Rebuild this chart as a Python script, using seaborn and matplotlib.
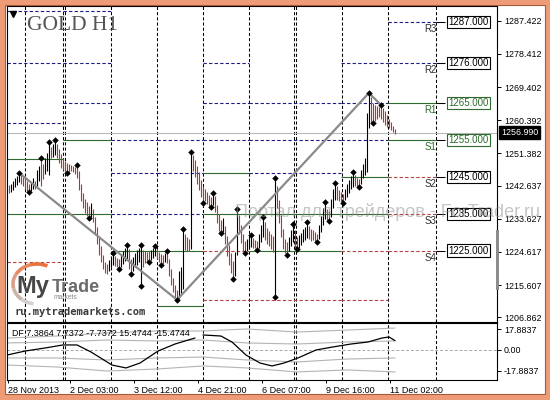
# GOLD H1 chart, MetaTrader style: bars, pivot levels, zigzag, DF indicator
import numpy as np
import matplotlib
matplotlib.use("Agg")
import matplotlib.pyplot as plt
from matplotlib.patches import Rectangle, Arc
import seaborn as sns

# ---- H1 bars, bar 1 .. 194 ----
bar_low = [
    1240.5, 1240.8, 1241.5, 1242.2, 1242.8, 1243.5, 1243.0, 1242.4, 1241.8, 1241.2,
    1240.8, 1241.2, 1241.8, 1241.6, 1242.4, 1243.8, 1242.5, 1244.5, 1245.8, 1246.5,
    1245.5, 1250.0, 1250.5, 1251.0, 1250.0, 1248.8, 1247.5, 1246.8, 1246.4, 1246.0,
    1246.3, 1246.5, 1246.4, 1245.8, 1244.8, 1241.5, 1238.5, 1236.5, 1235.3, 1234.3,
    1233.8, 1234.0, 1232.8, 1229.8, 1226.8, 1223.8, 1221.8, 1220.0, 1218.9, 1218.5,
    1219.4, 1220.6, 1221.2, 1220.8, 1220.4, 1220.1, 1220.5, 1221.4, 1222.2, 1222.8,
    1220.0, 1218.6, 1219.4, 1220.4, 1221.2, 1221.8, 1215.4, 1220.4, 1221.6, 1222.0,
    1221.8, 1222.5, 1223.0, 1223.4, 1222.6, 1221.8, 1221.0, 1221.4, 1221.8, 1221.5,
    1218.0, 1215.6, 1213.6, 1212.2, 1211.6, 1211.9, 1213.5, 1214.5, 1225.2, 1224.8,
    1225.0, 1225.4, 1246.5, 1245.0, 1243.2, 1241.4, 1239.6, 1237.9, 1238.4, 1237.6,
    1237.0, 1236.8, 1237.4, 1235.4, 1232.6, 1230.4, 1229.7, 1229.9, 1226.8, 1223.6,
    1221.0, 1218.8, 1217.3, 1218.0, 1223.8, 1229.5, 1227.0, 1225.0, 1224.3, 1224.8,
    1225.4, 1226.0, 1225.6, 1225.6, 1225.2, 1225.8, 1227.4, 1228.8, 1227.8, 1226.8,
    1226.2, 1225.4, 1224.6, 1212.4, 1236.5, 1232.5, 1228.6, 1225.4, 1224.2, 1223.8,
    1224.8, 1226.2, 1227.4, 1225.8, 1225.4, 1225.8, 1226.4, 1227.2, 1227.8, 1228.4,
    1228.0, 1227.6, 1227.8, 1227.6, 1227.3, 1228.0, 1230.0, 1232.0, 1233.6, 1233.2,
    1233.0, 1234.2, 1236.6, 1238.6, 1238.6, 1238.4, 1238.2, 1237.9, 1238.6, 1239.6,
    1240.6, 1241.6, 1242.2, 1242.4, 1242.4, 1242.2, 1243.2, 1244.6, 1245.6, 1246.2,
    1258.4, 1259.8, 1259.6, 1260.2, 1260.8, 1261.2, 1260.8, 1259.8, 1259.2, 1258.6,
    1258.2, 1257.6, 1257.2, 1256.6,
]
bar_high = [
    1242.8, 1243.2, 1243.8, 1244.6, 1245.2, 1246.1, 1245.6, 1245.0, 1244.4, 1243.8,
    1243.2, 1243.6, 1244.6, 1244.0, 1246.8, 1248.0, 1250.0, 1248.5, 1250.2, 1251.5,
    1254.5, 1253.2, 1254.0, 1255.0, 1254.0, 1252.5, 1251.2, 1250.0, 1249.2, 1248.8,
    1248.5, 1248.2, 1248.0, 1247.8, 1248.2, 1246.5, 1243.0, 1240.5, 1239.0, 1238.3,
    1237.2, 1237.8, 1236.4, 1234.2, 1231.4, 1228.4, 1226.2, 1223.8, 1222.0, 1221.4,
    1222.4, 1223.4, 1224.3, 1223.6, 1223.0, 1222.6, 1223.8, 1224.8, 1225.8, 1226.5,
    1225.4, 1222.8, 1223.2, 1224.2, 1225.2, 1225.6, 1226.5, 1225.2, 1225.0, 1224.6,
    1224.8, 1225.2, 1225.6, 1226.2, 1225.4, 1224.6, 1224.0, 1223.8, 1224.2, 1224.8,
    1222.6, 1220.0, 1217.6, 1215.6, 1214.4, 1219.5, 1220.5, 1230.8, 1229.6, 1228.6,
    1228.2, 1251.8, 1251.0, 1249.6, 1248.0, 1246.2, 1244.2, 1242.4, 1241.8, 1240.8,
    1240.0, 1239.6, 1240.6, 1239.8, 1237.4, 1235.0, 1233.2, 1233.8, 1231.6, 1229.0,
    1226.4, 1224.4, 1222.2, 1224.5, 1236.3, 1234.6, 1232.0, 1229.6, 1227.6, 1228.2,
    1228.8, 1229.2, 1228.4, 1227.8, 1227.6, 1229.6, 1232.0, 1234.1, 1232.8, 1231.2,
    1230.2, 1229.6, 1229.0, 1244.7, 1242.4, 1238.6, 1234.6, 1230.8, 1228.0, 1227.2,
    1228.8, 1230.6, 1232.2, 1230.6, 1228.6, 1229.2, 1229.8, 1230.8, 1231.4, 1232.7,
    1231.6, 1230.8, 1230.6, 1230.0, 1229.4, 1232.0, 1234.4, 1236.6, 1238.2, 1236.4,
    1235.8, 1239.0, 1241.6, 1243.3, 1242.4, 1241.4, 1240.8, 1240.4, 1241.6, 1243.0,
    1244.2, 1245.2, 1246.3, 1245.4, 1244.8, 1244.4, 1246.8, 1248.6, 1250.1, 1262.3,
    1267.8, 1266.8, 1265.2, 1264.6, 1264.2, 1264.0, 1264.5, 1263.8, 1262.8, 1261.8,
    1260.8, 1259.8, 1258.8, 1258.0,
]
last_price = 1256.99

# fractal marks (bar numbers)
frac_hi = [6, 17, 21, 24, 35, 53, 60, 67, 74, 80, 88, 92, 103, 115, 122, 128,
           134, 143, 150, 159, 164, 173, 181, 187]
frac_lo = [11, 30, 41, 56, 62, 67, 71, 77, 85, 98, 102, 107, 113, 119, 125,
           134, 140, 145, 155, 161, 168, 176, 183]

# zigzag
zz_bar = [6, 85, 181, 187]
zz_price = [1246.1, 1211.6, 1267.8, 1264.5]

# daily level segments: n = navy dashed, g = green solid, r = red dashed
lvl_start = [0, 0, 0, 0, 0, 0,
             28, 28, 28, 28, 28,
             52, 52, 52, 52,
             75, 75, 75, 75, 75,
             98, 98, 98, 98, 98, 98, 98,
             121, 121, 121, 121, 121, 121,
             167, 167, 167, 167, 167, 167, 167,
             190.5, 190.5, 190.5, 190.5, 190.5, 190.5, 190.5]
lvl_end = [28, 28, 28, 28, 28, 28,
           52, 52, 52, 52, 52,
           75, 75, 75, 75,
           98, 98, 98, 98, 98,
           121, 121, 121, 121, 121, 121, 121,
           167, 167, 167, 167, 167, 167,
           190.5, 190.5, 190.5, 190.5, 190.5, 190.5, 190.5,
           214.5, 214.5, 214.5, 214.5, 214.5, 214.5, 214.5]
lvl_price = [1290.1, 1275.9, 1259.6, 1249.9, 1234.9, 1221.9,
             1290.1, 1275.9, 1265.1, 1255.0, 1234.9,
             1255.0, 1246.1, 1234.9, 1224.9,
             1255.0, 1246.1, 1234.9, 1224.9, 1209.9,
             1275.9, 1265.1, 1255.0, 1246.1, 1234.9, 1224.9, 1211.6,
             1265.1, 1255.0, 1246.1, 1234.9, 1224.9, 1211.6,
             1275.9, 1265.1, 1255.0, 1245.0, 1234.9, 1224.9, 1211.6,
             1287.0, 1276.0, 1265.0, 1255.0, 1245.0, 1235.0, 1225.0]
lvl_kind = list("nnnggr" "nnngg" "nnng" "nnngg" "nnnggrr" "nnnggr" "nnnggrr" "nnggrrr")

# level tags at the right
tag_names = ["R3", "R2", "R1", "S1", "S2", "S3", "S4"]
tag_prices = [1287.0, 1276.0, 1265.0, 1255.0, 1245.0, 1235.0, 1225.0]

# DF indicator
df_bar_a = [0, 9, 19, 28, 35, 42, 52.5, 59.5, 66.5, 75.5, 84, 94]
df_val_a = [-4.3, -0.9, 1.7, 4.3, 4.3, -1.7, -12.8, -15.3, -11.1, -0.9, 5.1, 10.2]
df_bar_b = [98, 107, 112.5, 119.5, 126.5, 132.5, 138.5, 145.5, 154.5, 163, 172,
            180.5, 187.5, 191, 194]
df_val_b = [12.8, 11.9, 6.8, -4.3, -11.1, -13.6, -11.1, -6.8, 0.0, 2.6, 5.1,
            6.8, 10.2, 11.1, 8.0]
band_bar = [0, 25, 50, 75, 98, 120, 145, 170, 194]
band_up2 = [10.2, 11.9, 14.5, 16.2, 16.2, 17.9, 15.3, 17.0, 18.7]
band_up1 = [6.0, 6.8, 8.5, 7.7, 8.5, 6.0, 5.1, 6.8, 7.7]
band_dn1 = [-6.8, -6.8, -8.5, -6.8, -6.0, -8.5, -10.2, -7.7, -6.8]
band_dn2 = [-12.8, -14.5, -17.9, -16.2, -13.6, -15.3, -18.7, -17.0, -18.7]

# axes ticks
price_ticks = [1287.422, 1278.412, 1269.402, 1260.392, 1251.382,
               1242.637, 1233.627, 1224.617, 1215.607, 1206.862]
grid_bars = [9, 28, 29, 52, 75, 98, 121, 143.5, 144.5, 167.5, 190.5, 214.5]
time_ticks = [0.5, 31.5, 63.5, 95.5, 127.5, 159.5, 191.5]
time_labels = ["28 Nov 2013", "2 Dec 03:00", "3 Dec 12:00", "4 Dec 21:00",
               "6 Dec 07:00", "9 Dec 16:00", "11 Dec 02:00"]

# ------------------------------------------------------------
sns.set_theme(style="white")
plt.rcParams["font.family"] = ["Liberation Sans", "DejaVu Sans"]

W, H = 550, 400
fig = plt.figure(figsize=(5.5, 4), dpi=100)
fig.patch.set_facecolor("white")

ax = fig.add_axes([7 / W, 1 - 321.5 / H, 490 / W, 315.5 / H])
ax2 = fig.add_axes([7 / W, 1 - 380 / H, 490 / W, 57 / H])

DASH = (0, (3, 2))
NAVY = "#1c1c84"
GREEN = "#2f6b2f"
RED = "#b84040"
styles = {"n": (NAVY, DASH), "g": (GREEN, "solid"), "r": (RED, DASH)}

for a in (ax, ax2):
    a.set_facecolor("white")
    a.set_xlim(0, 245)
    for s in a.spines.values():
        s.set_color("black")
        s.set_linewidth(0.8)
    for gx in grid_bars:
        a.axvline(gx, color="black", lw=0.75, ls=DASH, zorder=1)

# main panel
ax.set_ylim(1205.72, 1291.41)
ax.axhline(last_price, color="#b9b9b9", lw=0.8, zorder=1.5)

for s0, s1, p, k in zip(lvl_start, lvl_end, lvl_price, lvl_kind):
    c, ls = styles[k]
    ax.hlines(p, s0, s1, colors=c, linestyles=ls, lw=0.8, zorder=2)

# black = bar pushing higher (higher high with higher low, or a long thrust up)
idx = np.arange(1, len(bar_high) + 1)
cols = []
for i in range(len(bar_high)):
    up = False
    if i > 0 and bar_high[i] > bar_high[i - 1]:
        up = bar_low[i] >= bar_low[i - 1] or (bar_high[i] - bar_low[i]) > 8
    cols.append("black" if up else "#b83232")
ax.vlines(idx, bar_low, bar_high, colors=cols, lw=0.8, zorder=3)

sns.lineplot(x=zz_bar, y=zz_price, ax=ax, color="#8a8a8a", lw=1.6, sort=False, zorder=4)
sns.scatterplot(x=frac_hi, y=[bar_high[i - 1] for i in frac_hi], ax=ax, marker="D",
                s=11, color="black", linewidth=0, zorder=5)
sns.scatterplot(x=frac_lo, y=[bar_low[i - 1] for i in frac_lo], ax=ax, marker="D",
                s=11, color="black", linewidth=0, zorder=5)

for name, p in zip(tag_names, tag_prices):
    c = GREEN if name in ("R1", "S1") else "black"
    tc = GREEN if name in ("R1", "S1") else "#303030"
    ax.hlines(p, 214.5, 219, colors="black", lw=0.75, zorder=2)
    ax.text(230.75, p, f"{p:.3f}", ha="center", va="center", fontsize=7, color=c,
            zorder=6, bbox=dict(boxstyle="square,pad=0.12", fc="white", ec=c, lw=0.8))
    ax.annotate(name, xy=(211.75, p), xytext=(0, -7), textcoords="offset pixels",
                ha="center", va="center", fontsize=7, color=tc, zorder=6)

ax.set_xticks([])
ax.yaxis.tick_right()
ax.set_yticks(price_ticks)
ax.set_yticklabels([f"{t:.3f}" for t in price_ticks])
ax.tick_params(axis="y", length=3, width=0.7, pad=2, labelsize=6.4, colors="black",
               right=True, left=False)
ax.set_xlabel("")
ax.set_ylabel("")
ax.annotate(f"{last_price:.3f}", xy=(1, last_price), xycoords=("axes fraction", "data"),
            xytext=(4, 0), textcoords="offset pixels", ha="left", va="center",
            fontsize=6.4, color="white", annotation_clip=False,
            bbox=dict(boxstyle="square,pad=0.25", fc="black", ec="black"))

# indicator panel
ax2.set_ylim(-25.56, 23.0)
ax2.axhline(0, color="#a8a8a8", lw=0.7, ls=DASH, zorder=1)
for band in (band_up2, band_up1, band_dn1, band_dn2):
    sns.lineplot(x=band_bar, y=band, ax=ax2, color="#b4b4b4", lw=0.8, zorder=2)
sns.lineplot(x=df_bar_a, y=df_val_a, ax=ax2, color="black", lw=0.9, zorder=3)
sns.lineplot(x=df_bar_b, y=df_val_b, ax=ax2, color="black", lw=0.9, zorder=3)
ax2.yaxis.tick_right()
ax2.set_yticks([17.8837, 0, -17.8837])
ax2.set_yticklabels(["17.8837", "0.00", "-17.8837"])
ax2.tick_params(axis="y", length=3, width=0.7, pad=2, labelsize=6.4, colors="black",
                right=True, left=False)
ax2.set_xticks(time_ticks)
ax2.set_xticklabels(time_labels)
for lab in ax2.get_xticklabels():
    lab.set_horizontalalignment("left")
ax2.tick_params(axis="x", length=2, width=0.7, pad=2, labelsize=6.5, colors="black",
                bottom=True)
ax2.set_xlabel("")
ax2.set_ylabel("")

# overlay in pixel coordinates: frame, title, logo, watermark
ov = fig.add_axes([0, 0, 1, 1], zorder=10)
ov.set_xlim(0, W)
ov.set_ylim(H, 0)
ov.axis("off")

ov.text(27, 26, "GOLD H1", family="Liberation Serif", fontsize=15.5, color="#555555",
        va="center", ha="left")
ov.plot([13], [14], marker="v", ms=4, color="black")
ov.text(12, 333, "DF 7.3864 7.7372 -7.7372 15.4744 -15.4744", fontsize=6.4,
        color="black", va="center", ha="left")
ov.add_patch(Rectangle((495.5, 230), 3, 60, color="#8c8c8c", lw=0))

ov.text(235, 212, "Портал для трейдеров - ForTrader.ru", fontsize=13,
        color="#8c8c8c", alpha=0.5, va="center", ha="left")

# logo ring: orange fading to grey
ring = [(300, 250, "#e9733f"), (250, 205, "#e58a60"), (205, 170, "#d9a08a"),
        (170, 135, "#cdb4ab"), (135, 100, "#d4d0cf")]
for t1, t0, c in ring:
    ov.add_patch(Arc((37, 284), 48, 40, theta1=t0, theta2=t1, color=c, lw=2.6))
ov.text(16, 293, "My", fontsize=17, weight="bold", color="#474747", va="baseline")
ov.text(52, 292, "Trade", fontsize=13, weight="bold", color="#6b6b6b", va="baseline")
ov.text(54, 299, "markets", fontsize=4.8, color="#888888", va="baseline")
ov.text(15, 315, "ru.mytrademarkets.com", family="DejaVu Sans Mono", weight="bold",
        fontsize=7.5, color="#3a3a3a", va="baseline")

# orange frame
FR = "#ee9c78"
for x0, y0, w, h in [(0, 0, W, 5), (0, H - 6, W, 6), (0, 0, 5, H), (W - 5, 0, 5, H)]:
    ov.add_patch(Rectangle((x0, y0), w, h, color=FR, lw=0))
ov.add_patch(Rectangle((5, 5), W - 10, H - 11, fill=False, ec="#a85a3a", lw=0.8))

fig.savefig("out.png", dpi=100)
plt.close(fig)
